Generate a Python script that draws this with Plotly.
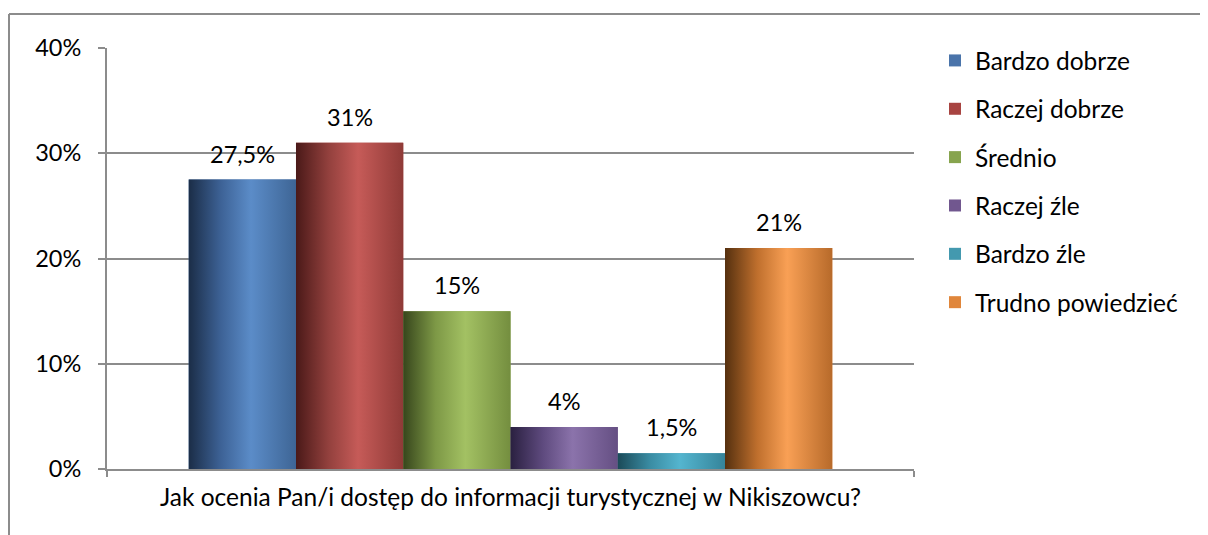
import plotly.graph_objects as go

categories = ["Bardzo dobrze", "Raczej dobrze", "Średnio", "Raczej źle", "Bardzo źle", "Trudno powiedzieć"]
values = [27.5, 31, 15, 4, 1.5, 21]
value_labels = ["27,5%", "31%", "15%", "4%", "1,5%", "21%"]
question = "Jak ocenia Pan/i dostęp do informacji turystycznej w Nikiszowcu?"
y_ticks = [0, 10, 20, 30, 40]
y_tick_labels = ["0%", "10%", "20%", "30%", "40%"]

legend_colors = ["#4A74AA", "#A84441", "#87A44E", "#71578F", "#4399AF", "#E0863B"]
gradients = [
    ["#1B2D47", "#3D6296", "#5B8CC8", "#3E6595"],
    ["#4A1918", "#92403D", "#C65B58", "#8F3A37"],
    ["#37461C", "#7D9846", "#A3C163", "#748E3F"],
    ["#2A2040", "#5E4A7E", "#8B73AB", "#654F83"],
    ["#1B4A58", "#3A8CA3", "#54B5CF", "#35849A"],
    ["#55300F", "#BF6F2D", "#F9A055", "#B76A2A"],
]

FONT = "Lato"
OFF = 8  # page body margin
W, H = 1208 - OFF, 535 - OFF
L, R, T, B = 107 - OFF, 914 - OFF, 48 - OFF, 469 - OFF
bar_w = 1.0
lo, hi = -1.262, 6.262

fig = go.Figure()
for i, (c, v) in enumerate(zip(categories, values)):
    fig.add_trace(go.Bar(
        x=[i], y=[v], width=bar_w, name=c,
        marker=dict(color=legend_colors[i], line=dict(width=0)),
        legendgroup=c, hoverinfo="skip",
    ))
for i, (c, v) in enumerate(zip(categories, values)):
    g = gradients[i]
    fig.add_trace(go.Scatter(
        x=[i - bar_w / 2, i + bar_w / 2, i + bar_w / 2, i - bar_w / 2, i - bar_w / 2],
        y=[0, 0, v, v, 0],
        mode="lines", line=dict(width=0), fill="toself",
        fillgradient=dict(type="horizontal",
                          colorscale=[[0, g[0]], [0.3, g[1]], [0.58, g[2]], [1, g[3]]]),
        showlegend=False, legendgroup=c, hoverinfo="skip",
    ))
    fig.add_annotation(x=i, y=v, text=value_labels[i], showarrow=False,
                       yanchor="bottom", yshift=10,
                       font=dict(family=FONT, size=23.5, color="black"))

pw = R - L
ph = B - T
bx = (9 - OFF - L) / pw
by = (B - (14 - OFF)) / ph
border = dict(color="#8C8C8C", width=2)
fig.add_shape(type="line", xref="paper", yref="paper", x0=bx, x1=(W + 5 - L) / pw,
              y0=by, y1=by, line=border, layer="below")
fig.add_shape(type="line", xref="paper", yref="paper", x0=bx, x1=bx,
              y0=by, y1=(B - (H + 5)) / ph, line=border, layer="below")

fig.update_layout(
    width=W, height=H,
    margin=dict(l=L, r=W - R, t=T, b=H - B),
    paper_bgcolor="white", plot_bgcolor="white",
    barmode="overlay",
    font=dict(family=FONT, size=24, color="black"),
    legend=dict(x=(935 - OFF - L) / pw, y=1.0 - (38 - OFF - T) / ph, xanchor="left", yanchor="top",
                font=dict(family=FONT, size=24.5, color="black"),
                traceorder="grouped", tracegroupgap=13.5, bgcolor="rgba(0,0,0,0)",
                maxheight=500),
    xaxis=dict(range=[lo, hi], tickvals=[lo, hi], ticktext=["", ""],
               ticks="outside", ticklen=6, tickcolor="#8C8C8C", tickwidth=2,
               showline=True, linecolor="#8C8C8C", linewidth=2, showgrid=False,
               zeroline=False, fixedrange=True,
               title=dict(text=question, font=dict(family=FONT, size=24.5), standoff=8)),
    yaxis=dict(range=[0, 40], tickvals=y_ticks, ticktext=y_tick_labels,
               ticks="outside", ticklen=7, tickcolor="#8C8C8C", tickwidth=2,
               showline=True, linecolor="#8C8C8C", linewidth=2,
               showgrid=True, gridcolor="#8C8C8C", gridwidth=2,
               zeroline=False, fixedrange=True, ticklabelstandoff=12,
               tickfont=dict(family=FONT, size=23.5)),
)

fig.write_html("out.html", config={"displayModeBar": False})
